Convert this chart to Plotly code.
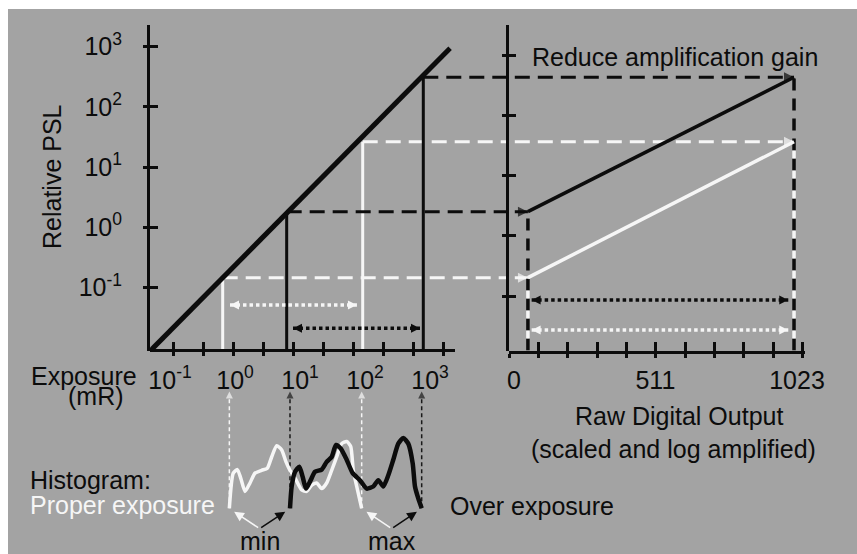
import math
import plotly.graph_objects as go

W, H = 857, 554
INK = "#0c0c0c"
CHALK = "#f6f6f6"
BACKDROP = "#a3a3a3"
FONT = "Liberation Sans, Arial, Helvetica, sans-serif"
SIZE = 25

# ---- characteristic curve: exposure (mR) vs relative PSL ----
curve_exposure = [0.041, 4100]
curve_psl = [0.0087, 940]

# exposure window (min, max) of each histogram and its PSL on the curve
proper_exposure = [0.666, 143.5]
proper_psl = [0.1445, 26.3]
over_exposure = [7.76, 1468]
over_psl = [1.81, 310]

# exposure-latitude arrows in the PSL panel
proper_span_exposure = [0.881, 115]
proper_span_psl = 0.0508
over_span_exposure = [9.89, 1294]
over_span_psl = 0.0208

# raw digital output (scaled and log amplified)
digital_window = [66, 994]
digital_span = [79, 974]
over_digital_span_psl = 0.0615
proper_digital_span_psl = 0.0195

# ticks
psl_ticks = [0.1, 1, 10, 100, 1000]
power_text = ["10<sup>-1</sup>", "10<sup>0</sup>", "10<sup>1</sup>", "10<sup>2</sup>", "10<sup>3</sup>"]
exposure_ticks = [0.1, 0.316, 1, 3.16, 10, 31.6, 100, 316, 1000, 3160]
exposure_label_ticks = [0.1, 1, 10, 100, 1000]
digital_ticks = [0, 102.3, 204.6, 306.9, 409.2, 511.5, 613.8, 716.1, 818.4, 920.7, 1023]
digital_label_ticks = [0, 511, 1023]
digital_ticktext = ["0", "511", "1023"]

# histograms (exposure in mR, relative counts)
proper_hist_exposure = [0.86, 1.0, 1.17, 1.33, 1.57, 1.9, 2.3, 2.97, 3.69, 4.36, 5.29, 6.41,
                        7.56, 8.81, 10.7, 13.8, 16.7, 20.3, 24.5, 29.7, 36.0, 43.6, 52.9,
                        64.1, 77.6, 90.5, 100, 114, 138]
proper_hist_counts = [0, 50, 55, 43, 24, 36, 50, 54, 57, 73, 89, 83, 66, 54, 43, 26, 24, 33,
                      36, 28, 36, 54, 73, 92, 95, 88, 54, 31, 0]
over_hist_exposure = [8.81, 9.4, 10.7, 12.6, 14.3, 16.3, 19.5, 23.0, 29.7, 36.0, 43.6, 51.5,
                      61.7, 77.6, 97.7, 129, 167, 215, 261, 316, 383, 464, 562, 681, 825,
                      977, 1067, 1211, 1380]
over_hist_counts = [0, 31, 52, 59, 45, 28, 40, 52, 55, 66, 73, 90, 85, 69, 50, 40, 28, 31,
                    40, 31, 47, 69, 92, 100, 92, 64, 31, 14, 0]


def fx(px):
    return px / W


def fy(py):
    return 1 - py / H


LEFT_X = [fx(150), fx(509)]
RIGHT_X = [fx(509), fx(805)]
PANEL_Y = [fy(350.5), fy(25)]
HIST_Y = [fy(552), fy(388)]

EXPOSURE_RANGE = [-1.388, 4.595]
LABEL_RANGE = [-1.3077, 4.2154]
PSL_RANGE = [-2.051, 3.361]
PSL_FRAME_RANGE = [-1.905, 3.507]
DIGITAL_RANGE = [0, 1032.3]
DIGITAL_LABEL_RANGE = [-18.07, 1052.0]
COUNT_RANGE = [-62.2, 171.1]

psl_floor = 10 ** PSL_RANGE[0]
beyond_left = 10 ** (EXPOSURE_RANGE[1] + 0.5)
before_right = -60

CONNECT_DASH = "15px,8px"
DOTS = "3.5px,3px"


def line(x, y, xa, ya, color, width, dash="solid", shape="linear"):
    return go.Scatter(x=x, y=y, xaxis=xa, yaxis=ya, mode="lines",
                      line=dict(color=color, width=width, dash=dash, shape=shape, smoothing=0.6),
                      hoverinfo="skip", showlegend=False)


def arrow_line(x, y, xa, ya, color, width, dash, symbols, sizes):
    return go.Scatter(x=x, y=y, xaxis=xa, yaxis=ya, mode="lines+markers",
                      line=dict(color=color, width=width, dash=dash),
                      marker=dict(symbol=symbols, size=sizes, color=color, line=dict(width=0)),
                      cliponaxis=False, hoverinfo="skip", showlegend=False)


fig = go.Figure()

# empty traces so the tick-only overlay axes get drawn
for xa, ya in [("x4", "y"), ("x5", "y"), ("x6", "y"), ("x7", "y"), ("x", "y4"), ("x2", "y5"),
               ("x2", "y2")]:
    fig.add_trace(go.Scatter(x=[], y=[], xaxis=xa, yaxis=ya, showlegend=False, hoverinfo="skip"))

# exposure windows: verticals to the curve and dashed connectors to the digital output
for exposure, psl, color in [(proper_exposure, proper_psl, CHALK), (over_exposure, over_psl, INK)]:
    for e, p, d in zip(exposure, psl, digital_window):
        fig.add_trace(line([e, e], [p, psl_floor], "x", "y", color, 3))
        fig.add_trace(line([e, beyond_left], [p, p], "x", "y", color, 3, CONNECT_DASH))
        fig.add_trace(arrow_line([before_right, d], [p, p], "x2", "y", color, 3, CONNECT_DASH,
                                 ["arrow-right", "arrow-right"], [0, 10]))

# digital window edges: black and white dashes interleaved
for d, i in zip(digital_window, [0, 1]):
    fig.add_trace(line([d, d], [psl_floor, over_psl[i]], "x2", "y", INK, 3.5, "12px,8px"))
    fig.add_trace(line([d, d], [psl_floor, proper_psl[i]], "x2", "y", CHALK, 3.5, "0px,12px,8px,0px"))

# digital response lines
fig.add_trace(line(digital_window, over_psl, "x2", "y", INK, 3.5))
fig.add_trace(line(digital_window, proper_psl, "x2", "y", CHALK, 3.5))

# latitude arrows
fig.add_trace(arrow_line(proper_span_exposure, [proper_span_psl] * 2, "x", "y", CHALK, 3.5, DOTS,
                         ["arrow-left", "arrow-right"], 9))
fig.add_trace(arrow_line(over_span_exposure, [over_span_psl] * 2, "x", "y", INK, 3.5, DOTS,
                         ["arrow-left", "arrow-right"], 9))
fig.add_trace(arrow_line(digital_span, [over_digital_span_psl] * 2, "x2", "y", INK, 3.5, DOTS,
                         ["arrow-left", "arrow-right"], 9))
fig.add_trace(arrow_line(digital_span, [proper_digital_span_psl] * 2, "x2", "y", CHALK, 3.5, DOTS,
                         ["arrow-left", "arrow-right"], 9))

# characteristic curve
fig.add_trace(line(curve_exposure, curve_psl, "x", "y", INK, 5))

# histogram min/max pointers up to the exposure scale
for ends, color in [((proper_hist_exposure[0], proper_hist_exposure[-1]), CHALK),
                    ((over_hist_exposure[0], over_hist_exposure[-1]), "#1a1a1a")]:
    for e in ends:
        fig.add_trace(arrow_line([e, e], [0, 166], "x3", "y3", color, 1.5, "4px,3px",
                                 ["arrow-up", "arrow-up"], [0, 7]))

# histograms
fig.add_trace(line(proper_hist_exposure, proper_hist_counts, "x3", "y3", CHALK, 3.5, shape="spline"))
fig.add_trace(line(over_hist_exposure, over_hist_counts, "x3", "y3", INK, 4.5, shape="spline"))

common = dict(showgrid=False, zeroline=False, linecolor=INK, linewidth=3,
              tickcolor=INK, tickwidth=3, automargin=False)
tickfont = dict(family=FONT, size=SIZE, color=INK)

layout = dict(
    width=W, height=H, autosize=False,
    margin=dict(l=0, r=0, t=0, b=0, pad=0, autoexpand=False),
    paper_bgcolor="white", plot_bgcolor="rgba(0,0,0,0)", showlegend=False,
    font=dict(family=FONT, size=SIZE, color=INK),
    xaxis=dict(type="log", domain=LEFT_X, range=EXPOSURE_RANGE, anchor="y", showline=False,
               ticks="outside", ticklen=4, tickvals=exposure_ticks, showticklabels=False, **common),
    xaxis4=dict(type="log", overlaying="x", range=EXPOSURE_RANGE, anchor="y", side="bottom",
                showline=False, ticks="inside", ticklen=9, tickvals=exposure_ticks,
                showticklabels=False, **common),
    xaxis5=dict(type="log", overlaying="x", range=LABEL_RANGE, anchor="y", side="bottom",
                showline=False, ticks="", tickvals=exposure_label_ticks, ticktext=power_text,
                tickfont=tickfont, ticklabelstandoff=12, **common),
    yaxis=dict(type="log", domain=PANEL_Y, range=PSL_RANGE, anchor="x", side="left", showline=True,
               ticks="outside", ticklen=4, tickvals=psl_ticks, ticktext=power_text,
               tickfont=tickfont, ticklabelstandoff=16, **common),
    yaxis4=dict(type="log", overlaying="y", range=PSL_RANGE, anchor="x", side="left", showline=False,
                ticks="inside", ticklen=8, tickvals=psl_ticks, showticklabels=False, **common),
    xaxis2=dict(domain=RIGHT_X, range=DIGITAL_RANGE, anchor="y", showline=True,
                ticks="outside", ticklen=4, tickvals=digital_ticks, showticklabels=False, **common),
    xaxis6=dict(overlaying="x2", range=DIGITAL_RANGE, anchor="y", side="bottom", showline=False,
                ticks="inside", ticklen=9, tickvals=digital_ticks[1:], showticklabels=False, **common),
    xaxis7=dict(overlaying="x2", range=DIGITAL_LABEL_RANGE, anchor="y", side="bottom",
                showline=False, ticks="", tickvals=digital_label_ticks, ticktext=digital_ticktext,
                tickfont=tickfont, ticklabelstandoff=12, **common),
    yaxis2=dict(type="log", domain=PANEL_Y, range=PSL_FRAME_RANGE, anchor="x2", side="left",
                showline=True, ticks="outside", ticklen=4, tickvals=psl_ticks,
                showticklabels=False, **common),
    yaxis5=dict(type="log", overlaying="y2", range=PSL_FRAME_RANGE, anchor="x2", side="left",
                showline=False, ticks="inside", ticklen=7, tickvals=psl_ticks,
                showticklabels=False, **common),
    xaxis3=dict(type="log", domain=LEFT_X, range=EXPOSURE_RANGE, anchor="y3", visible=False),
    yaxis3=dict(domain=HIST_Y, range=COUNT_RANGE, anchor="x3", visible=False),
)

shapes = [
    dict(type="rect", xref="paper", yref="paper", x0=fx(8), x1=1, y0=0, y1=fy(9),
         fillcolor=BACKDROP, line=dict(width=0), layer="below"),
    # exposure axis line (stops short of the digital panel)
    dict(type="line", xref="x domain", yref="y domain", x0=0, x1=(455 - 150) / (509 - 150),
         y0=0, y1=0, line=dict(color=INK, width=3)),
]


def text(s, x, y, xanchor="center", color=INK, angle=0):
    return dict(text=s, x=fx(x), y=fy(y), xref="paper", yref="paper", xanchor=xanchor,
                yanchor="middle", showarrow=False, textangle=angle,
                font=dict(family=FONT, size=SIZE, color=color))


annotations = [
    text("Relative PSL", 52, 177, angle=-90),
    text("Reduce amplification gain", 530, 57, xanchor="left"),
    text("Exposure", 29, 376, xanchor="left"),
    text("(mR)", 96, 396),
    text("Histogram:", 28, 480, xanchor="left"),
    text("Proper exposure", 28, 505, xanchor="left", color=CHALK),
    text("Over exposure", 448, 506, xanchor="left"),
    text("Raw Digital Output", 679, 416),
    text("(scaled and log amplified)", 673, 449),
]

lg = math.log10
min_x = (lg(proper_hist_exposure[0]) + lg(over_hist_exposure[0])) / 2
max_x = (lg(proper_hist_exposure[-1]) + lg(over_hist_exposure[-1])) / 2
for label, lx in [("min", min_x), ("max", max_x)]:
    annotations.append(dict(text=label, x=lx, y=-47, xref="x3", yref="y3", showarrow=False,
                            xanchor="center", yanchor="middle",
                            font=dict(family=FONT, size=SIZE, color=INK)))

for e, lx, color in [(proper_hist_exposure[0], min_x, CHALK), (over_hist_exposure[0], min_x, INK),
                     (proper_hist_exposure[-1], max_x, CHALK), (over_hist_exposure[-1], max_x, INK)]:
    head = lg(e) + math.copysign(0.08, lx - lg(e))
    annotations.append(dict(text="", x=head, y=-5, ax=lx, ay=-29, xref="x3", yref="y3",
                            axref="x3", ayref="y3", showarrow=True, arrowhead=2, arrowsize=1.3,
                            arrowwidth=1.5, arrowcolor=color, standoff=0, startstandoff=0))

layout["shapes"] = shapes
layout["annotations"] = annotations
fig.update_layout(**layout)

fig.write_html("out.html", config={"displayModeBar": False, "responsive": False})
